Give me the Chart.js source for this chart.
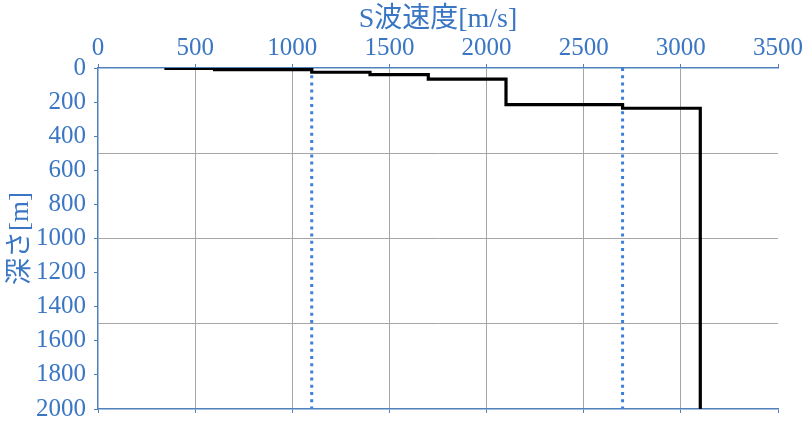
<!DOCTYPE html>
<html>
<head>
<meta charset="utf-8">
<script src="https://cdn.jsdelivr.net/npm/chart.js@4"></script>
<style>
html,body{margin:0;padding:0;background:#fff;}
#wrap{width:810px;height:426px;}
</style>
</head>
<body>
<div id="wrap"><canvas id="c" width="810" height="426"></canvas></div>
<script>
// Layer S-wave velocities [m/s] and layer boundary depths [m]
const velocities = [350, 600, 1100, 1400, 1700, 2100, 2700, 3100];
const depthBoundaries = [0, 2, 10, 25, 39, 65, 215, 236, 2000];
// Reference velocity lines (dotted)
const refVelocities = [1100, 2700];
const xTickStep = 500;
const yLabelStep = 200;
const yGridStep = 500;
const xTitle = 'S波速度[m/s]';
const yTitle = '深さ[m]';

const stepPoints = [];
velocities.forEach((v, i) => {
  stepPoints.push({x: v, y: depthBoundaries[i]});
  stepPoints.push({x: v, y: depthBoundaries[i + 1]});
});
const yMin = depthBoundaries[0];
const yMax = depthBoundaries[depthBoundaries.length - 1];

const BLUE = '#3a76c4';
const AXIS = '#4f81bd';
const GRID = '#a6a6a6';
const CLEAR = 'rgba(0,0,0,0)';
const serif = '"Liberation Serif", "Noto Sans CJK JP", serif';

const datasets = [{
  data: stepPoints,
  showLine: true,
  borderColor: '#000',
  borderWidth: 3.2,
  pointRadius: 0,
  xAxisID: 'x', yAxisID: 'y'
}];
refVelocities.forEach(v => {
  datasets.push({
    data: [{x: v, y: yMin}, {x: v, y: yMax}],
    showLine: true,
    borderColor: '#3d7fdc',
    borderWidth: 3,
    borderDash: [3, 4.2],
    pointRadius: 0,
    xAxisID: 'x', yAxisID: 'y'
  });
});

new Chart(document.getElementById('c'), {
  type: 'scatter',
  data: {datasets},
  options: {
    responsive: false,
    animation: false,
    layout: {padding: {left: 0, right: 32, top: 0, bottom: 0}},
    plugins: {legend: {display: false}, tooltip: {enabled: false}},
    scales: {
      x: {
        type: 'linear', position: 'top', min: 0, max: 3500,
        ticks: {stepSize: xTickStep, color: BLUE, font: {family: serif, size: 25, lineHeight: 1}, padding: 3, maxRotation: 0,
          callback: v => String(v)},
        grid: {
          color: ctx => (ctx.tick && ctx.tick.value > 0 && ctx.tick.value < 3500) ? GRID : CLEAR,
          tickColor: AXIS, tickLength: 4, lineWidth: 1
        },
        border: {color: AXIS, width: 1.5},
        title: {display: true, text: xTitle, color: BLUE, font: {family: serif, size: 28, lineHeight: 1.2}, padding: {top: 3, bottom: 0}},
        afterFit: s => { s.height = 68; }
      },
      x2: {
        type: 'linear', position: 'bottom', min: 0, max: 3500,
        ticks: {stepSize: xTickStep, display: false},
        grid: {drawOnChartArea: false, tickColor: AXIS, tickLength: 4},
        border: {color: AXIS, width: 1.5},
        afterFit: s => { s.height = 17; }
      },
      y: {
        type: 'linear', reverse: true, min: yMin, max: yMax,
        ticks: {
          stepSize: 100, autoSkip: false, color: BLUE,
          font: {family: serif, size: 25, lineHeight: 1}, padding: 8,
          callback: v => (v % yLabelStep === 0 ? String(v) : '')
        },
        grid: {
          color: ctx => (ctx.tick && ctx.tick.value % yGridStep === 0 && ctx.tick.value > yMin && ctx.tick.value < yMax) ? GRID : CLEAR,
          tickColor: ctx => (ctx.tick && ctx.tick.value % yLabelStep === 0) ? AXIS : CLEAR,
          tickLength: 4, lineWidth: 1
        },
        border: {color: AXIS, width: 1.5},
        title: {display: true, text: yTitle, color: BLUE, font: {family: serif, size: 27, lineHeight: 1.2}, padding: {top: 5, bottom: 0}},
        afterFit: s => { s.width = 98; s.paddingTop = 0; s.paddingBottom = 0; }
      }
    }
  }
});
</script>
</body>
</html>
